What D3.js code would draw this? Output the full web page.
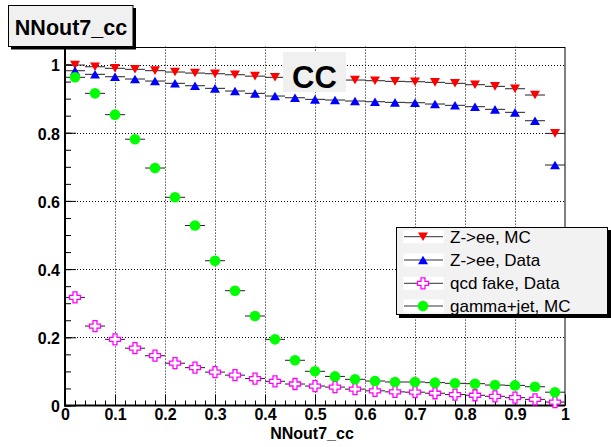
<!DOCTYPE html>
<html><head><meta charset="utf-8">
<script src="https://cdn.jsdelivr.net/npm/d3@7"></script>
<style>
html,body{margin:0;padding:0;background:#fff;}
text{font-family:"Liberation Sans",Arial,Helvetica,sans-serif;}
</style></head>
<body><svg id="c" width="611" height="447"></svg>
<script>
// ---- data ----
const binCenters = [0.02,0.06,0.10,0.14,0.18,0.22,0.26,0.30,0.34,0.38,0.42,0.46,0.50,0.54,0.58,0.62,0.66,0.70,0.74,0.78,0.82,0.86,0.90,0.94,0.98];
const binHalfWidth = 0.02;
const zeeMC   = [0.9985,0.9935,0.989,0.986,0.982,0.978,0.975,0.973,0.970,0.966,0.9625,0.960,0.958,0.956,0.9545,0.9525,0.9507,0.9496,0.9478,0.9449,0.9408,0.936,0.929,0.9106,0.798];
const zeeData = [0.9818,0.9713,0.9642,0.9575,0.9516,0.9449,0.9378,0.9302,0.9223,0.9155,0.9076,0.9026,0.8979,0.8959,0.893,0.8909,0.8891,0.888,0.8842,0.8804,0.8763,0.8686,0.8598,0.8352,0.7053];
const qcdData = [0.317,0.233,0.194,0.168,0.146,0.124,0.111,0.098,0.089,0.079,0.071,0.063,0.057,0.054,0.048,0.043,0.040,0.039,0.036,0.032,0.030,0.027,0.023,0.018,0.010];
const gjetMC  = [0.9625,0.9155,0.853,0.781,0.6965,0.6106,0.5279,0.4246,0.3367,0.2625,0.194,0.1326,0.1003,0.0853,0.0768,0.0718,0.0689,0.069,0.067,0.065,0.064,0.060,0.059,0.055,0.039];
const seriesNames = ["Z->ee, MC","Z->ee, Data","qcd fake, Data","gamma+jet, MC"];
const xTicks = [0,0.1,0.2,0.3,0.4,0.5,0.6,0.7,0.8,0.9,1];
const yTicks = [0,0.2,0.4,0.6,0.8,1];
const xDomain = [0,1];
const yDomain = [0,1.0526];

// ---- layout ----
const svg = d3.select("#c");
const L=65, R=565, T=46.6, B=405.5;
const x = d3.scaleLinear().domain(xDomain).range([L,R]);
const y = d3.scaleLinear().domain(yDomain).range([B,T]);

// gridlines
const grid = svg.append("g").attr("stroke","#000").attr("stroke-width",1).attr("stroke-dasharray","1,2");
xTicks.filter(t=>t>0&&t<1).forEach(t=>{
  grid.append("line").attr("x1",Math.round(x(t))+0.5).attr("x2",Math.round(x(t))+0.5).attr("y1",T).attr("y2",B);
});
yTicks.filter(t=>t>0).forEach(t=>{
  grid.append("line").attr("y1",Math.round(y(t))+0.5).attr("y2",Math.round(y(t))+0.5).attr("x1",L).attr("x2",R);
});

// frame (top/right thin)
svg.append("rect").attr("x",L).attr("y",Math.round(T)+0.5).attr("width",R-L).attr("height",B-Math.round(T)-0.5)
  .attr("fill","none").attr("stroke","#000").attr("stroke-width",1);

// axes with D3 axis generators (ticks inside)
const xMinor = d3.range(0,1.0001,0.02);
const yMinor = d3.range(0,1.0501,0.05);
const gx = svg.append("g").attr("transform",`translate(0,${B})`)
  .call(d3.axisTop(x).tickValues(xMinor).tickSize(5).tickFormat(""));
const gx2 = svg.append("g").attr("transform",`translate(0,${B})`)
  .call(d3.axisTop(x).tickValues(xTicks).tickSize(11).tickFormat(""));
const gxl = svg.append("g").attr("transform",`translate(0,${B})`)
  .call(d3.axisBottom(x).tickValues(xTicks).tickSize(0).tickPadding(3).tickFormat(d=>d===0?"0":d===1?"1":d3.format(".1f")(d)));
const gy = svg.append("g").attr("transform",`translate(${L},0)`)
  .call(d3.axisRight(y).tickValues(yMinor).tickSize(6).tickFormat(""));
const gy2 = svg.append("g").attr("transform",`translate(${L},0)`)
  .call(d3.axisRight(y).tickValues(yTicks).tickSize(11).tickFormat(""));
const gyl = svg.append("g").attr("transform",`translate(${L},0)`)
  .call(d3.axisLeft(y).tickValues(yTicks).tickSize(0).tickPadding(5).tickFormat(d=>d===0?"0":d===1?"1":d3.format(".1f")(d)));
[gx,gx2,gxl,gy,gy2,gyl].forEach(g=>{
  g.select(".domain").remove();
  g.selectAll(".tick line").attr("stroke","#000").attr("stroke-width",1);
  g.selectAll("text").attr("font-size",16).attr("font-weight","bold").attr("fill","#000")
    .attr("font-family","'Liberation Sans',Arial,sans-serif");
});
gyl.selectAll("text").attr("dy","0.4em");
gxl.selectAll("text").attr("dy","0.71em");
// thick axis lines
svg.append("line").attr("x1",L).attr("x2",L).attr("y1",T).attr("y2",B+1).attr("stroke","#000").attr("stroke-width",2);
svg.append("line").attr("x1",L-1).attr("x2",R).attr("y1",B).attr("y2",B).attr("stroke","#000").attr("stroke-width",2);

// axis title
svg.append("text").attr("x",(L+R)/2-3).attr("y",438.5).attr("text-anchor","middle")
  .attr("font-size",16).attr("font-weight","bold").text("NNout7_cc");

// marker shapes
function markerPath(kind){
  if(kind==="down") return "M-5,-4.3L5,-4.3L0,4.3Z";
  if(kind==="up") return "M-5,4.3L5,4.3L0,-4.3Z";
  if(kind==="cross") return "M-2,-5.5H2V-2H5.5V2H2V5.5H-2V2H-5.5V-2H-2Z";
  return null;
}
const series = [
  {name:seriesNames[0], vals:zeeMC, color:"#ff0000", kind:"down"},
  {name:seriesNames[1], vals:zeeData, color:"#0000ff", kind:"up"},
  {name:seriesNames[2], vals:qcdData, color:"#ff00ff", kind:"cross"},
  {name:seriesNames[3], vals:gjetMC, color:"#00ff00", kind:"circle"}
];
function drawMarker(g, s){
  if(s.kind==="circle") g.append("circle").attr("r",5.3).attr("fill",s.color);
  else if(s.kind==="cross") g.append("path").attr("d",markerPath("cross")).attr("fill","#fff").attr("stroke",s.color).attr("stroke-width",1.3);
  else g.append("path").attr("d",markerPath(s.kind)).attr("fill",s.color);
}
const plot = svg.append("g");
// error bars first
series.forEach(s=>{
  plot.append("g").selectAll("line").data(s.vals).join("line")
    .attr("x1",(d,i)=>x(binCenters[i]-binHalfWidth)).attr("x2",(d,i)=>x(binCenters[i]+binHalfWidth))
    .attr("y1",d=>y(d)).attr("y2",d=>y(d)).attr("stroke","#222").attr("stroke-width",1);
});
series.forEach(s=>{
  s.vals.forEach((v,i)=>{
    const g = plot.append("g").attr("transform",`translate(${x(binCenters[i])},${y(v)})`);
    drawMarker(g,s);
  });
});

// CC label box
svg.append("rect").attr("x",283).attr("y",52).attr("width",63).attr("height",40).attr("fill","#f0f0f0");
svg.append("text").attr("x",314.5).attr("y",88).attr("text-anchor","middle").attr("font-size",31).attr("font-weight","bold").text("CC");

// legend
const lg = svg.append("g");
lg.append("rect").attr("x",399).attr("y",230).attr("width",212).attr("height",88).attr("fill","#000");
lg.append("rect").attr("x",396.5).attr("y",227.5).attr("width",211).attr("height",87).attr("fill","#f2f2f2").attr("stroke","#000");
const rowY = [236.7,260,283.3,306];
series.forEach((s,i)=>{
  lg.append("rect").attr("x",403.5).attr("y",rowY[i]-6.5).attr("width",40).attr("height",13).attr("fill","#fff");
  lg.append("line").attr("x1",404).attr("x2",443).attr("y1",rowY[i]).attr("y2",rowY[i]).attr("stroke","#333").attr("stroke-width",1);
  const g = lg.append("g").attr("transform",`translate(423,${rowY[i]})`);
  drawMarker(g,s);
  lg.append("text").attr("x",450).attr("y",rowY[i]+6).attr("font-size",17).text(s.name);
});

// title box
svg.append("rect").attr("x",11).attr("y",8).attr("width",125).attr("height",41.5).attr("fill","#000");
svg.append("rect").attr("x",8.5).attr("y",5.5).attr("width",124.5).attr("height",41).attr("fill","#f0f0f0").attr("stroke","#000");
svg.append("text").attr("x",71).attr("y",35).attr("text-anchor","middle").attr("font-size",21.5).attr("font-weight","bold").text("NNout7_cc");
</script></body></html>
